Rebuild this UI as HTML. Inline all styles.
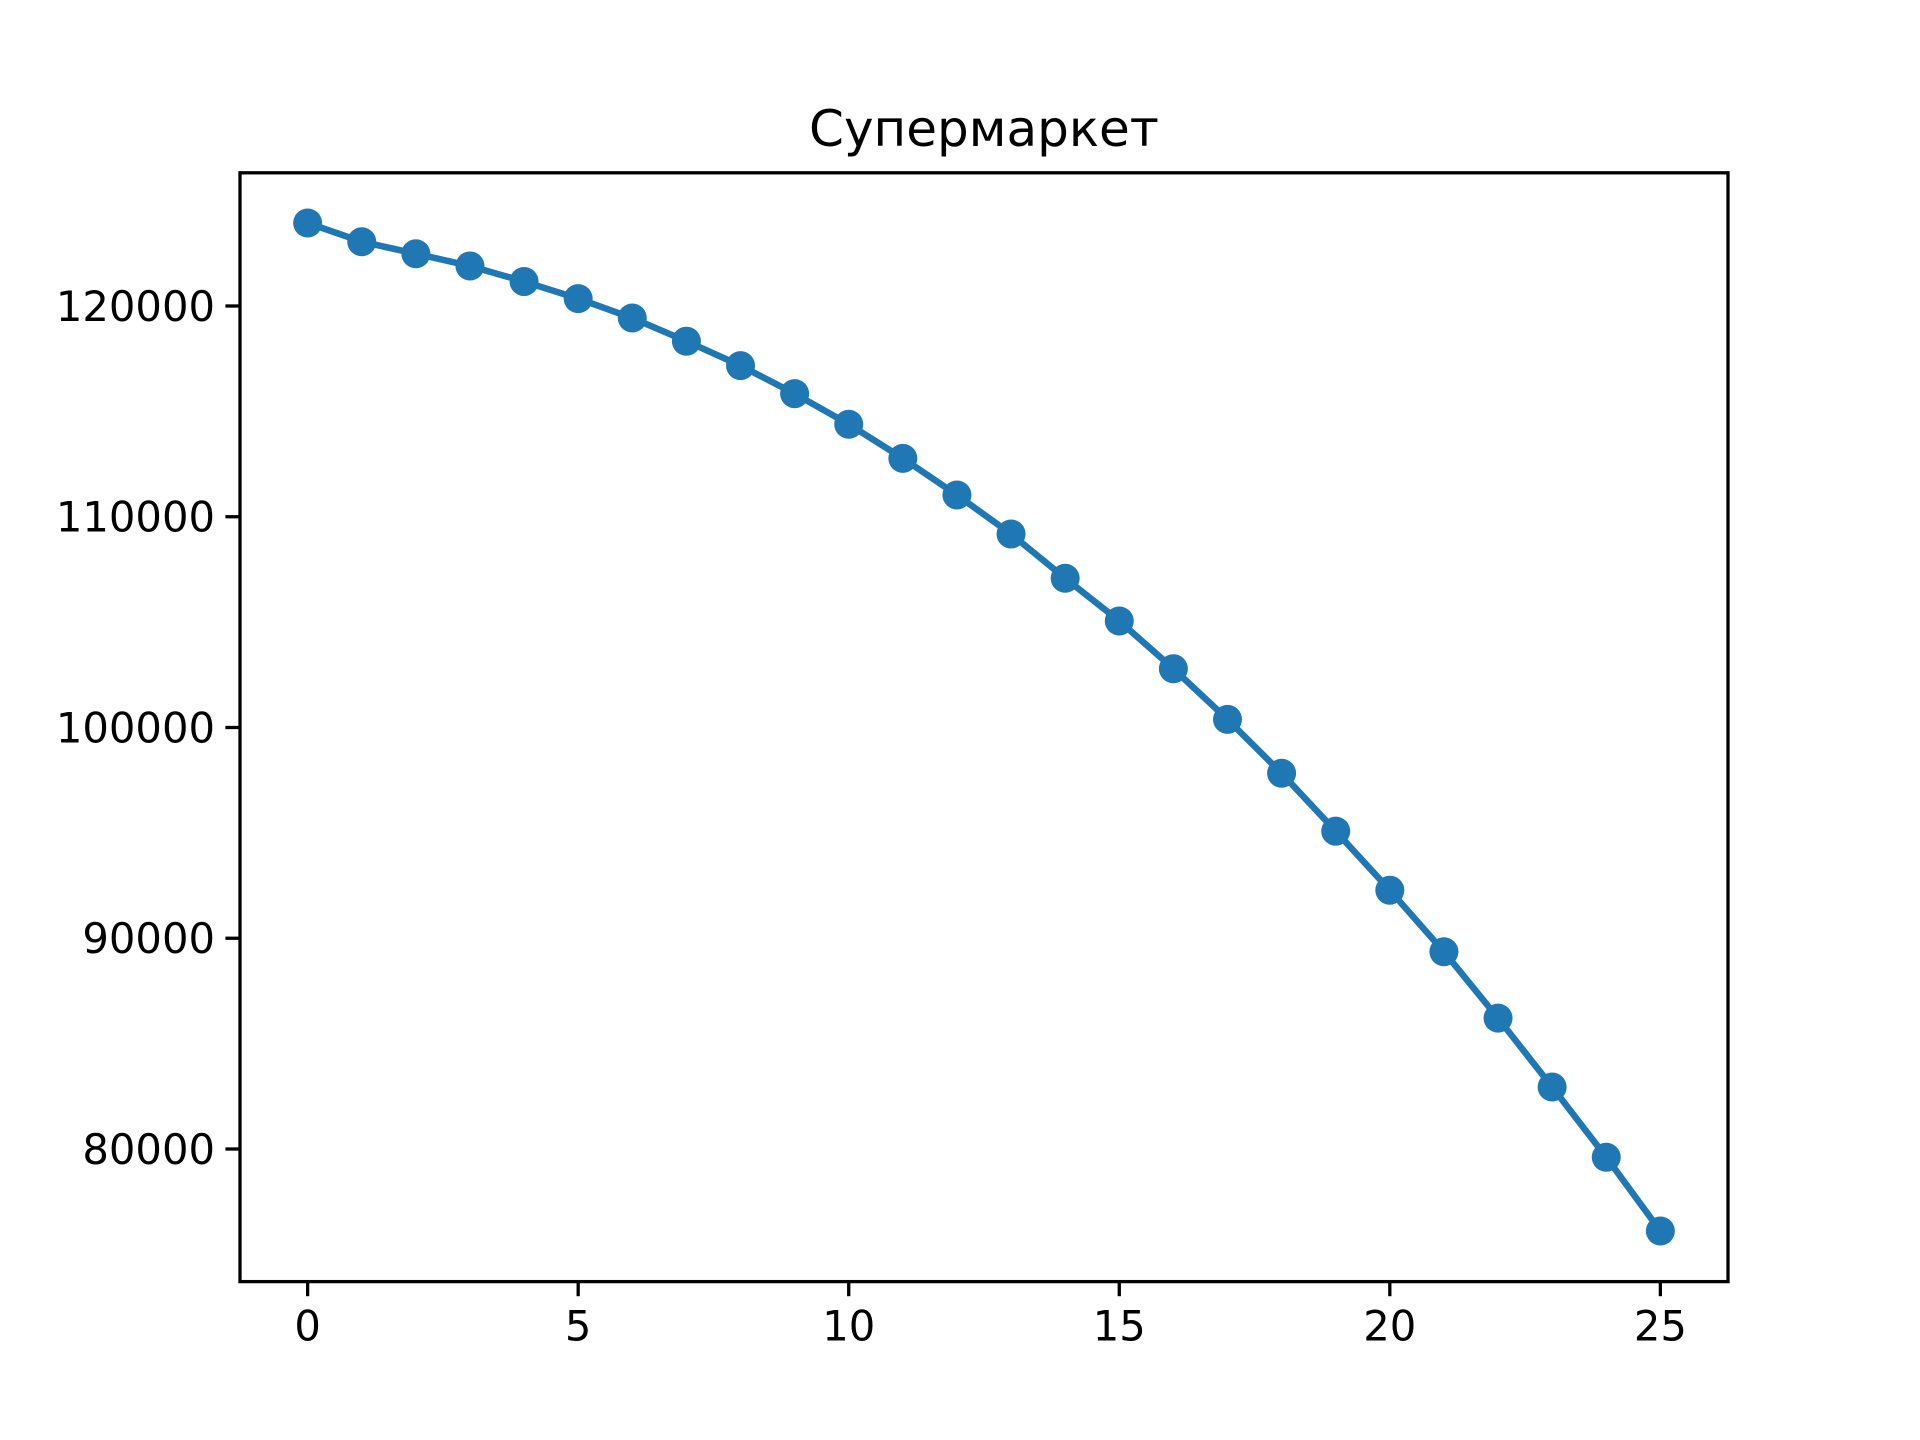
<!DOCTYPE html>
<html><head><meta charset="utf-8"><style>
html,body{margin:0;padding:0;background:#fff;}
svg{display:block;font-family:"DejaVu Sans","Liberation Sans",sans-serif;}
</style></head><body>
<svg id="chart" width="1920" height="1440" viewBox="0 0 1920 1440" xmlns="http://www.w3.org/2000/svg">
<rect width="1920" height="1440" fill="#fff"/>
<text x="984" y="146" font-size="50" text-anchor="middle" fill="#000">Супермаркет</text>
<g id="xticks"></g>
<g id="yticks"></g>
<g id="series"></g>
<rect x="240" y="172.8" width="1488" height="1108.8" fill="none" stroke="#000" stroke-width="3.3"/>
</svg>
<script>
const xValues = [0,1,2,3,4,5,6,7,8,9,10,11,12,13,14,15,16,17,18,19,20,21,22,23,24,25];
const yValues = [123938,123050,122480,121900,121160,120350,119430,118330,117170,115840,114390,112770,111030,109180,107082,105054,102790,100384,97830,95080,92280,89360,86210,82940,79610,76109];
const xTicks = [0,5,10,15,20,25];
const yTicks = [80000,90000,100000,110000,120000];

const L=240,R=1728,T=172.8,B=1281.6;
const xMin=-1.25,xMax=26.25;
const yMin=73708,yMax=126320;
const sx=v=>L+(v-xMin)/(xMax-xMin)*(R-L);
const sy=v=>B-(v-yMin)/(yMax-yMin)*(B-T);
const NS="http://www.w3.org/2000/svg";
function mk(tag,parent,attrs){const e=document.createElementNS(NS,tag);for(const k in attrs)e.setAttribute(k,attrs[k]);parent.appendChild(e);return e;}

const xg=document.getElementById('xticks');
xTicks.forEach(t=>{
  const l=mk('line',xg,{x1:sx(t),x2:sx(t),y1:B,y2:B+14.6,stroke:'#000','stroke-width':3.3});
  
  
  const tx=mk('text',xg,{x:sx(t),y:B+59,'font-size':41.7,'text-anchor':'middle',fill:'#000'});
  tx.textContent=t;
  
  
});
const yg=document.getElementById('yticks');
yTicks.forEach(t=>{
  const l=mk('line',yg,{x1:L-14.6,x2:L,y1:sy(t),y2:sy(t),stroke:'#000','stroke-width':3.3});
  
  
  const tx=mk('text',yg,{x:L-25,y:sy(t)+15,'font-size':41.7,'text-anchor':'end',fill:'#000'});
  tx.textContent=t;
  
  
});
const sg=document.getElementById('series');
const pts=xValues.map((x,i)=>sx(x)+','+sy(yValues[i])).join(' ');
const pl=mk('polyline',sg,{points:pts,fill:'none',stroke:'#1f77b4','stroke-width':6.5,'stroke-linejoin':'round','stroke-linecap':'square'});


xValues.forEach((x,i)=>{
  const c=mk('circle',sg,{cx:sx(x),cy:sy(yValues[i]),r:14.5,fill:'#1f77b4'});
  
  
});
</script>
</body></html>
